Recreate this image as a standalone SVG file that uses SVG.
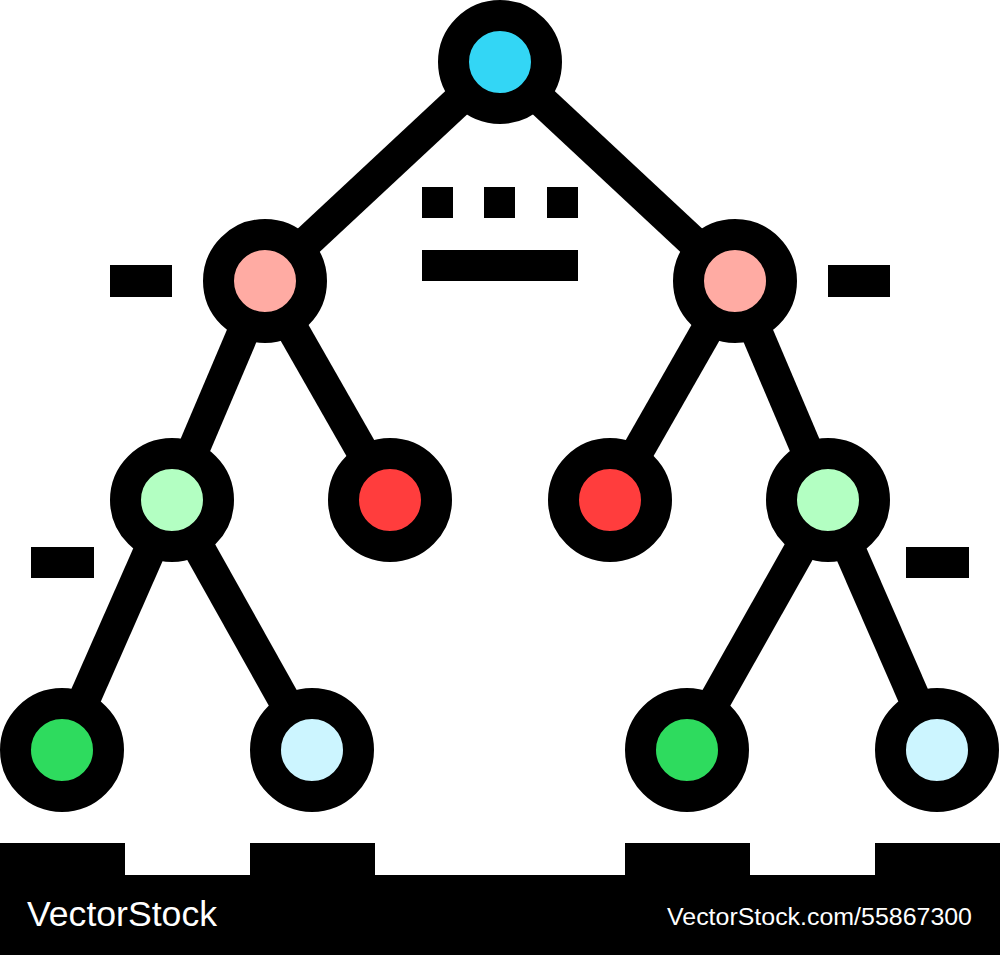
<svg xmlns="http://www.w3.org/2000/svg" width="1000" height="955" viewBox="0 0 1000 955">
<style>
.edge{stroke:#000;stroke-width:32;fill:none}
.node{stroke:#000;stroke-width:31}
.blk{fill:#000}
.wm{fill:#fff;font-family:"Liberation Sans",Arial,sans-serif}
</style>
<rect width="1000" height="955" fill="#fff"/>
<g id="connectors">
<line class="edge" x1="500" y1="62" x2="265" y2="281"/>
<line class="edge" x1="500" y1="62" x2="735" y2="281"/>
<line class="edge" x1="265" y1="281" x2="172" y2="500"/>
<line class="edge" x1="265" y1="281" x2="390" y2="500"/>
<line class="edge" x1="735" y1="281" x2="610" y2="500"/>
<line class="edge" x1="735" y1="281" x2="828" y2="500"/>
<line class="edge" x1="172" y1="500" x2="62" y2="750"/>
<line class="edge" x1="172" y1="500" x2="312" y2="750"/>
<line class="edge" x1="828" y1="500" x2="687" y2="750"/>
<line class="edge" x1="828" y1="500" x2="937" y2="750"/>
</g>
<g id="n-root"><circle class="node" cx="500" cy="62" r="46.5" fill="#33D6F5"/></g>
<g id="n-l"><circle class="node" cx="265" cy="281" r="46.5" fill="#FFABA3"/></g>
<g id="n-r"><circle class="node" cx="735" cy="281" r="46.5" fill="#FFABA3"/></g>
<g id="n-ll"><circle class="node" cx="172" cy="500" r="46.5" fill="#B3FFC2"/></g>
<g id="n-lr"><circle class="node" cx="390" cy="500" r="46.5" fill="#FF3D3D"/></g>
<g id="n-rl"><circle class="node" cx="610" cy="500" r="46.5" fill="#FF3D3D"/></g>
<g id="n-rr"><circle class="node" cx="828" cy="500" r="46.5" fill="#B3FFC2"/></g>
<g id="n-lll"><circle class="node" cx="62" cy="750" r="46.5" fill="#2EDB5E"/></g>
<g id="n-llr"><circle class="node" cx="312" cy="750" r="46.5" fill="#CCF5FF"/></g>
<g id="n-rrl"><circle class="node" cx="687" cy="750" r="46.5" fill="#2EDB5E"/></g>
<g id="n-rrr"><circle class="node" cx="937" cy="750" r="46.5" fill="#CCF5FF"/></g>
<g id="marks">
<rect class="blk" x="422" y="187" width="31" height="31"/>
<rect class="blk" x="484" y="187" width="31" height="31"/>
<rect class="blk" x="547" y="187" width="31" height="31"/>
<rect class="blk" x="422" y="250" width="156" height="31"/>
<rect class="blk" x="110" y="265" width="62" height="32"/>
<rect class="blk" x="828" y="265" width="62" height="32"/>
<rect class="blk" x="31" y="547" width="63" height="31"/>
<rect class="blk" x="906" y="547" width="63" height="31"/>
</g>
<g id="footer">
<rect class="blk" x="0" y="875" width="1000" height="80"/>
<rect class="blk" x="0" y="843" width="125" height="33"/>
<rect class="blk" x="250" y="843" width="125" height="33"/>
<rect class="blk" x="625" y="843" width="125" height="33"/>
<rect class="blk" x="875" y="843" width="125" height="33"/>
<text class="wm" x="27" y="926" font-size="35" textLength="190" lengthAdjust="spacingAndGlyphs">VectorStock</text>
<text class="wm" x="667" y="925" font-size="23" textLength="305" lengthAdjust="spacingAndGlyphs">VectorStock.com/55867300</text>
</g>
</svg>
